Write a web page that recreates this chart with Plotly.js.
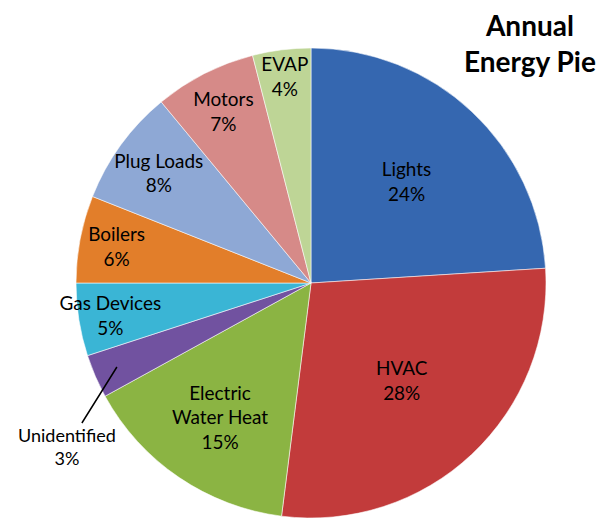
<!DOCTYPE html>
<html>
<head>
<meta charset="utf-8">
<script src="https://cdn.plot.ly/plotly-3.0.1.min.js"></script>
<style>html,body{margin:0;padding:0;background:#fff;}#chart{width:612px;height:518px;}</style>
</head>
<body>
<div id="chart"></div>
<script>
const categories = ["Lights", "HVAC", "Electric<br>Water Heat", "Unidentified", "Gas Devices", "Boilers", "Plug Loads", "Motors", "EVAP"];
const values = [24, 28, 15, 3, 5, 6, 8, 7, 4];
const colors = ["#3567b0", "#c23b3b", "#8bb443", "#7152a0", "#3ab5d5", "#e27e2a", "#8ea8d5", "#d68a88", "#bed596"];
const outsideLabel = "Unidentified";
const titleText = "Annual<br>Energy Pie";

const total = values.reduce((a, b) => a + b, 0);
const textpos = categories.map(c => c === outsideLabel ? "none" : "inside");

// arrow target on the outside-labelled slice, computed from the data
const idx = categories.indexOf(outsideLabel);
const before = values.slice(0, idx).reduce((a, b) => a + b, 0);
const midFrac = (before + values[idx] / 2) / total;
const theta = midFrac * 2 * Math.PI;
const f = 0.9;
const ax0 = 0.5 + 0.5 * f * Math.sin(theta);
const ay0 = 0.5 + 0.5 * f * Math.cos(theta);

const trace = {
  type: "pie",
  labels: categories,
  values: values,
  sort: false,
  direction: "clockwise",
  rotation: 0,
  marker: { colors: colors, line: { color: "rgba(255,255,255,0.55)", width: 1 } },
  texttemplate: "%{label}<br>%{percent:.0%}",
  textposition: textpos,
  insidetextorientation: "horizontal",
  textfont: { family: "Lato, sans-serif", size: 19, color: "#000" },
  hoverinfo: "label+percent",
  showlegend: false
};

const layout = {
  width: 612,
  height: 518,
  margin: { l: 76, r: 66, t: 48, b: 0 },
  paper_bgcolor: "#fff",
  uniformtext: { minsize: 18, mode: "show" },
  annotations: [{
    xref: "paper", yref: "paper",
    x: ax0, y: ay0,
    ax: -50, ay: 80,
    showarrow: true, arrowhead: 0, arrowwidth: 1.5, arrowcolor: "#000",
    text: outsideLabel + "<br>" + Math.round(values[idx] / total * 100) + "%",
    font: { family: "Lato, sans-serif", size: 18, color: "#000" }
  }, {
    xref: "paper", yref: "paper",
    x: 0.966, y: 1.09, xanchor: "center", yanchor: "top",
    showarrow: false,
    text: "<b>" + titleText + "</b>",
    font: { family: "Lato, sans-serif", size: 28, color: "#000" }
  }]
};

Plotly.newPlot("chart", [trace], layout, { displayModeBar: false, staticPlot: true });
</script>
</body>
</html>
